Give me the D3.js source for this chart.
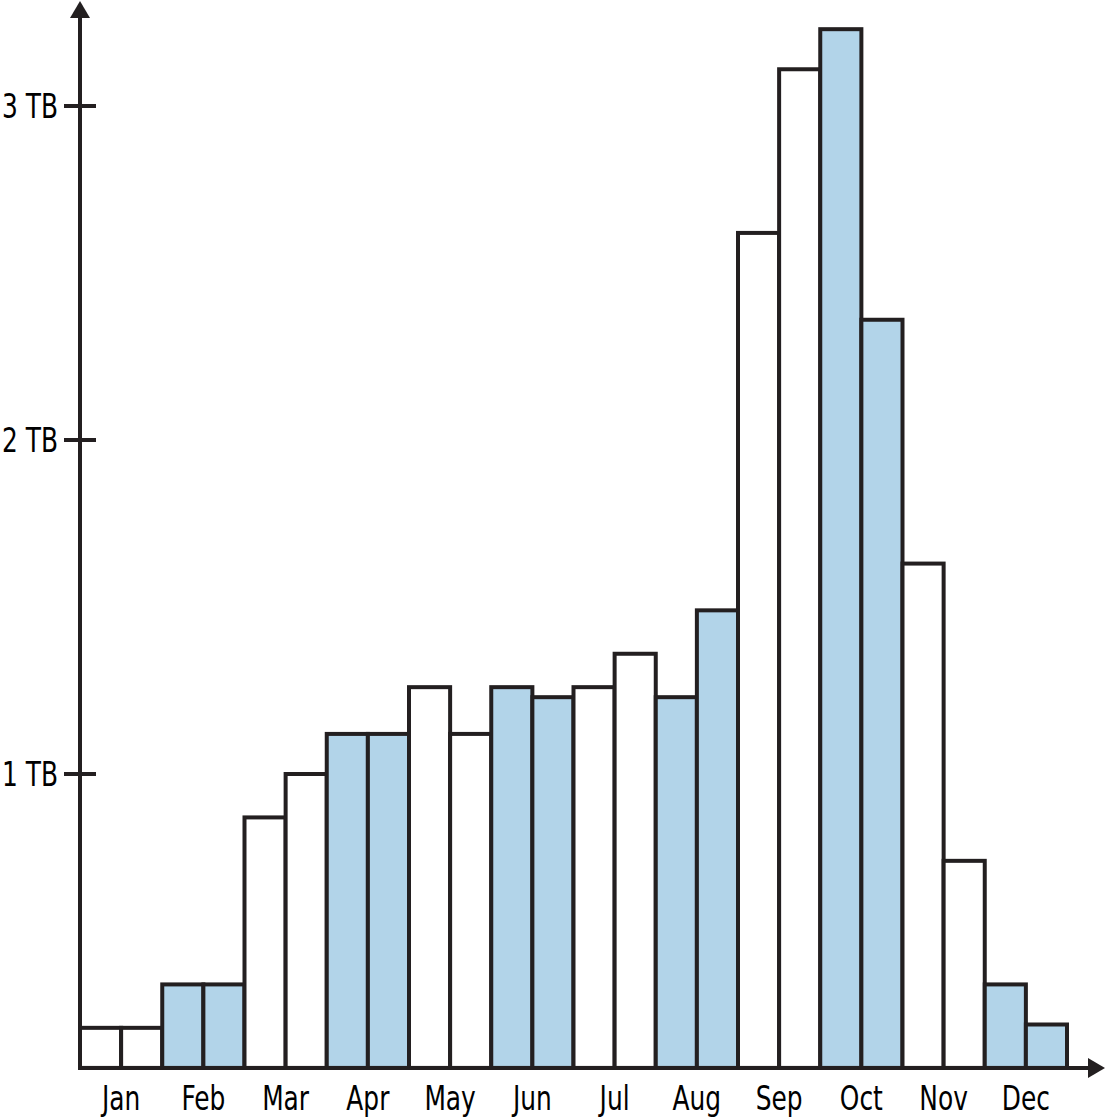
<!DOCTYPE html>
<html>
<head>
<meta charset="utf-8">
<script src="https://cdn.jsdelivr.net/npm/d3@7"></script>
<style>
  html, body { margin: 0; padding: 0; background: #fff; }
  svg text { font-family: "DejaVu Sans Condensed", "DejaVu Sans", sans-serif; font-stretch: condensed; fill: #000; }
</style>
</head>
<body>
<svg id="chart" width="1106" height="1119"></svg>
<script>
const months = ["Jan","Feb","Mar","Apr","May","Jun","Jul","Aug","Sep","Oct","Nov","Dec"];
// two half-month values (TB) per month
const firstHalf  = [0.24, 0.37, 0.87, 1.12, 1.26, 1.26, 1.26, 1.23, 2.62, 3.23, 1.63, 0.37];
const secondHalf = [0.24, 0.37, 1.00, 1.12, 1.12, 1.23, 1.36, 1.49, 3.11, 2.36, 0.74, 0.25];
const monthFill  = ["white","blue","white","blue","white","blue","white","blue","white","blue","white","blue"];
const yTicks = [1, 2, 3];
const yTickLabels = ["1 TB", "2 TB", "3 TB"];
const axisMin = 0.12;

const colors = { white: "#ffffff", blue: "#b2d4e9" };
const ink = "#231f20";
const sw = 4;

const bars = [];
months.forEach((m, i) => {
  bars.push({ key: m + "-1", month: m, value: firstHalf[i], fill: monthFill[i] });
  bars.push({ key: m + "-2", month: m, value: secondHalf[i], fill: monthFill[i] });
});

const svg = d3.select("#chart");
const mLeft = 80, mRight = 1067, mTop = 106;

const x = d3.scaleBand().domain(bars.map(d => d.key)).range([mLeft, mRight]).paddingInner(0).paddingOuter(0);
const xm = d3.scaleBand().domain(months).range([mLeft, mRight]);
const y = d3.scaleLinear().domain([0, 3]).range([1108, mTop]);
const base = y(axisMin);

// bars
svg.append("g").selectAll("rect").data(bars).join("rect")
  .attr("x", d => x(d.key))
  .attr("y", d => y(d.value))
  .attr("width", x.bandwidth())
  .attr("height", d => base - y(d.value))
  .attr("fill", d => colors[d.fill])
  .attr("stroke", ink)
  .attr("stroke-width", sw);

// y axis line + arrow
const axisG = svg.append("g");
axisG.append("line").attr("x1", mLeft).attr("x2", mLeft).attr("y1", base + sw / 2).attr("y2", 14)
  .attr("stroke", ink).attr("stroke-width", sw);
axisG.append("path").attr("d", `M${mLeft},1 L${mLeft - 10},18 L${mLeft + 10},18 Z`).attr("fill", ink);

// x axis line + arrow
axisG.append("line").attr("x1", mLeft - sw / 2).attr("x2", 1092).attr("y1", base).attr("y2", base)
  .attr("stroke", ink).attr("stroke-width", sw);
axisG.append("path").attr("d", `M1105,${base} L1088,${base - 10} L1088,${base + 10} Z`).attr("fill", ink);

// y ticks
const yt = axisG.append("g").selectAll("g").data(yTicks).join("g")
  .attr("transform", d => `translate(0,${y(d)})`);
yt.append("line").attr("x1", 64).attr("x2", 96).attr("stroke", ink).attr("stroke-width", sw);
const yLabels = yt.append("text").attr("x", 58).attr("dy", "0.36em").attr("text-anchor", "end")
  .attr("font-size", 33).text((d, i) => yTickLabels[i]);

// month labels
const mLabels = axisG.append("g").selectAll("text").data(months).join("text")
  .attr("x", d => xm(d) + xm.bandwidth() / 2)
  .attr("y", 1110)
  .attr("text-anchor", "middle")
  .attr("font-size", 33)
  .text(d => d);

// condense text horizontally if the font is wider than the reference's condensed face
const refWidth = 56; // width of "3 TB" label
const w = yLabels.nodes()[2].getComputedTextLength();
const k = Math.min(1, refWidth / w);
if (k < 0.98) {
  yLabels.attr("transform", `translate(58,0) scale(${k},1) translate(-58,0)`);
  mLabels.attr("transform", d => {
    const cx = xm(d) + xm.bandwidth() / 2;
    return `translate(${cx},0) scale(${k},1) translate(${-cx},0)`;
  });
}
</script>
</body>
</html>
